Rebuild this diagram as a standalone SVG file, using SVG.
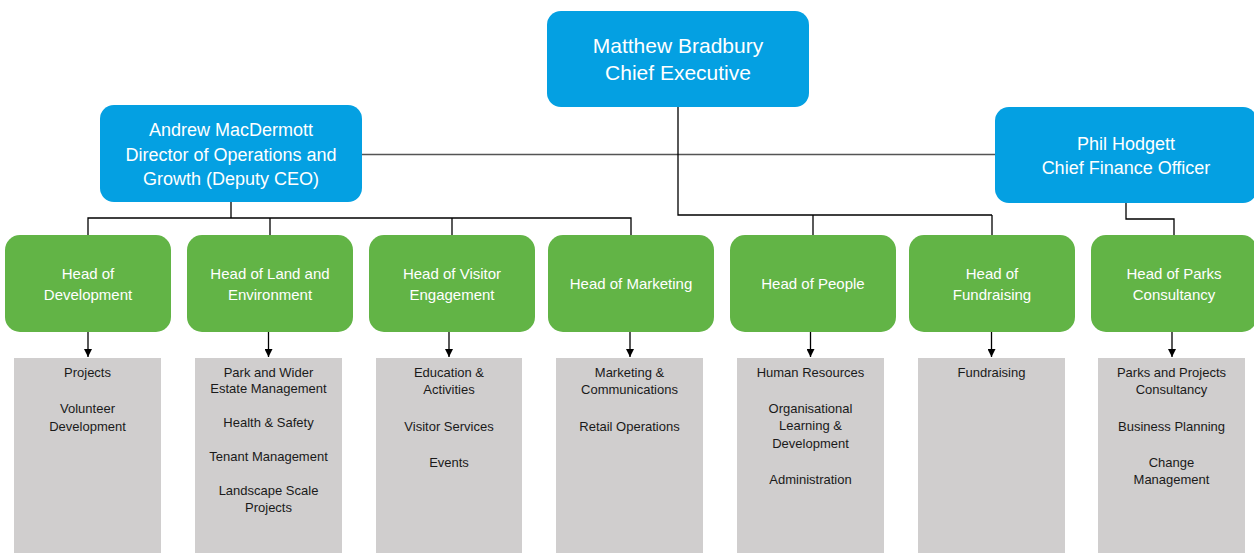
<svg xmlns="http://www.w3.org/2000/svg" width="1254" height="553" viewBox="0 0 1254 553">
  <defs>
    <style>
      .blue { fill: #04a0e2; }
      .green { fill: #62b446; }
      .grey { fill: #d0cece; }
      .t { font-family: "Liberation Sans", Arial, sans-serif; text-anchor: middle; }
      .wt { fill: #ffffff; }
      .top { font-size: 21px; }
      .dir { font-size: 18px; }
      .head { font-size: 15px; }
      .sub { font-size: 13px; fill: #1a1a1a; }
      .conn { fill: none; stroke: #000000; stroke-width: 1.3; }
      .connGrey { fill: none; stroke: #555555; stroke-width: 1.3; }
    </style>
    <marker id="arrow" markerUnits="userSpaceOnUse" markerWidth="8" markerHeight="8" refX="8" refY="4" orient="auto">
      <path d="M0,0 L8,4 L0,8 Z" fill="#000000"/>
    </marker>
  </defs>
  <rect width="1254" height="553" fill="#ffffff"/>

  <g id="connectors">
    <!-- Director to CFO -->
    <line class="connGrey" x1="362" y1="154.5" x2="995" y2="154.5"/>
    <!-- CEO -->
    <polyline class="conn" points="678,107 678,215 992,215"/>
    <line class="conn" x1="813" y1="215" x2="813" y2="235"/>
    <line class="conn" x1="992" y1="215" x2="992" y2="235"/>
    <!-- Director -->
    <line class="conn" x1="231" y1="202" x2="231" y2="218" stroke-width="2"/>
    <polyline class="conn" points="88,235 88,218 631,218 631,235"/>
    <line class="conn" x1="270" y1="218" x2="270" y2="235"/>
    <line class="conn" x1="452" y1="218" x2="452" y2="235"/>
    <!-- CFO -->
    <polyline class="conn" points="1126,203 1126,219 1174,219 1174,235"/>
    <!-- Arrows to grey boxes -->
    <line class="conn" x1="88" y1="332" x2="88" y2="357" marker-end="url(#arrow)"/>
    <line class="conn" x1="268.5" y1="332" x2="268.5" y2="357" marker-end="url(#arrow)"/>
    <line class="conn" x1="449" y1="332" x2="449" y2="357" marker-end="url(#arrow)"/>
    <line class="conn" x1="630" y1="332" x2="630" y2="357" marker-end="url(#arrow)"/>
    <line class="conn" x1="810.5" y1="332" x2="810.5" y2="357" marker-end="url(#arrow)"/>
    <line class="conn" x1="991.5" y1="332" x2="991.5" y2="357" marker-end="url(#arrow)"/>
    <line class="conn" x1="1172" y1="332" x2="1172" y2="357" marker-end="url(#arrow)"/>
  </g>

  <g id="ceo">
    <rect class="blue" x="547" y="11" width="262" height="96" rx="14"/>
    <text class="t wt top" x="678" y="53">Matthew Bradbury</text>
    <text class="t wt top" x="678" y="80">Chief Executive</text>
  </g>

  <g id="director">
    <rect class="blue" x="100" y="105" width="262" height="97" rx="14"/>
    <text class="t wt dir" x="231" y="136">Andrew MacDermott</text>
    <text class="t wt dir" x="231" y="161">Director of Operations and</text>
    <text class="t wt dir" x="231" y="185">Growth (Deputy CEO)</text>
  </g>

  <g id="cfo">
    <rect class="blue" x="995" y="107" width="262" height="96" rx="14"/>
    <text class="t wt dir" x="1126" y="150">Phil Hodgett</text>
    <text class="t wt dir" x="1126" y="174">Chief Finance Officer</text>
  </g>

  <g id="head-development">
    <rect class="green" x="5" y="235" width="166" height="97" rx="15"/>
    <text class="t wt head" x="88" y="279">Head of</text>
    <text class="t wt head" x="88" y="300">Development</text>
  </g>
  <g id="head-land">
    <rect class="green" x="187" y="235" width="166" height="97" rx="15"/>
    <text class="t wt head" x="270" y="279">Head of Land and</text>
    <text class="t wt head" x="270" y="300">Environment</text>
  </g>
  <g id="head-visitor">
    <rect class="green" x="369" y="235" width="166" height="97" rx="15"/>
    <text class="t wt head" x="452" y="279">Head of Visitor</text>
    <text class="t wt head" x="452" y="300">Engagement</text>
  </g>
  <g id="head-marketing">
    <rect class="green" x="548" y="235" width="166" height="97" rx="15"/>
    <text class="t wt head" x="631" y="289">Head of Marketing</text>
  </g>
  <g id="head-people">
    <rect class="green" x="730" y="235" width="166" height="97" rx="15"/>
    <text class="t wt head" x="813" y="289">Head of People</text>
  </g>
  <g id="head-fundraising">
    <rect class="green" x="909" y="235" width="166" height="97" rx="15"/>
    <text class="t wt head" x="992" y="279">Head of</text>
    <text class="t wt head" x="992" y="300">Fundraising</text>
  </g>
  <g id="head-parks">
    <rect class="green" x="1091" y="235" width="166" height="97" rx="15"/>
    <text class="t wt head" x="1174" y="279">Head of Parks</text>
    <text class="t wt head" x="1174" y="300">Consultancy</text>
  </g>

  <g id="teams-development">
    <rect class="grey" x="14" y="358" width="147" height="195"/>
    <text class="t sub" x="87.5" y="377">Projects</text>
    <text class="t sub" x="87.5" y="413">Volunteer</text>
    <text class="t sub" x="87.5" y="431">Development</text>
  </g>
  <g id="teams-land">
    <rect class="grey" x="195" y="358" width="147" height="195"/>
    <text class="t sub" x="268.5" y="377">Park and Wider</text>
    <text class="t sub" x="268.5" y="393">Estate Management</text>
    <text class="t sub" x="268.5" y="427">Health &amp; Safety</text>
    <text class="t sub" x="268.5" y="461">Tenant Management</text>
    <text class="t sub" x="268.5" y="495">Landscape Scale</text>
    <text class="t sub" x="268.5" y="512">Projects</text>
  </g>
  <g id="teams-visitor">
    <rect class="grey" x="376" y="358" width="146" height="195"/>
    <text class="t sub" x="449" y="377">Education &amp;</text>
    <text class="t sub" x="449" y="394">Activities</text>
    <text class="t sub" x="449" y="431">Visitor Services</text>
    <text class="t sub" x="449" y="467">Events</text>
  </g>
  <g id="teams-marketing">
    <rect class="grey" x="556" y="358" width="147" height="195"/>
    <text class="t sub" x="629.5" y="377">Marketing &amp;</text>
    <text class="t sub" x="629.5" y="394">Communications</text>
    <text class="t sub" x="629.5" y="431">Retail Operations</text>
  </g>
  <g id="teams-people">
    <rect class="grey" x="737" y="358" width="147" height="195"/>
    <text class="t sub" x="810.5" y="377">Human Resources</text>
    <text class="t sub" x="810.5" y="413">Organisational</text>
    <text class="t sub" x="810.5" y="430">Learning &amp;</text>
    <text class="t sub" x="810.5" y="448">Development</text>
    <text class="t sub" x="810.5" y="484">Administration</text>
  </g>
  <g id="teams-fundraising">
    <rect class="grey" x="918" y="358" width="147" height="195"/>
    <text class="t sub" x="991.5" y="377">Fundraising</text>
  </g>
  <g id="teams-parks">
    <rect class="grey" x="1098" y="358" width="147" height="195"/>
    <text class="t sub" x="1171.5" y="377">Parks and Projects</text>
    <text class="t sub" x="1171.5" y="394">Consultancy</text>
    <text class="t sub" x="1171.5" y="431">Business Planning</text>
    <text class="t sub" x="1171.5" y="467">Change</text>
    <text class="t sub" x="1171.5" y="484">Management</text>
  </g>
</svg>
